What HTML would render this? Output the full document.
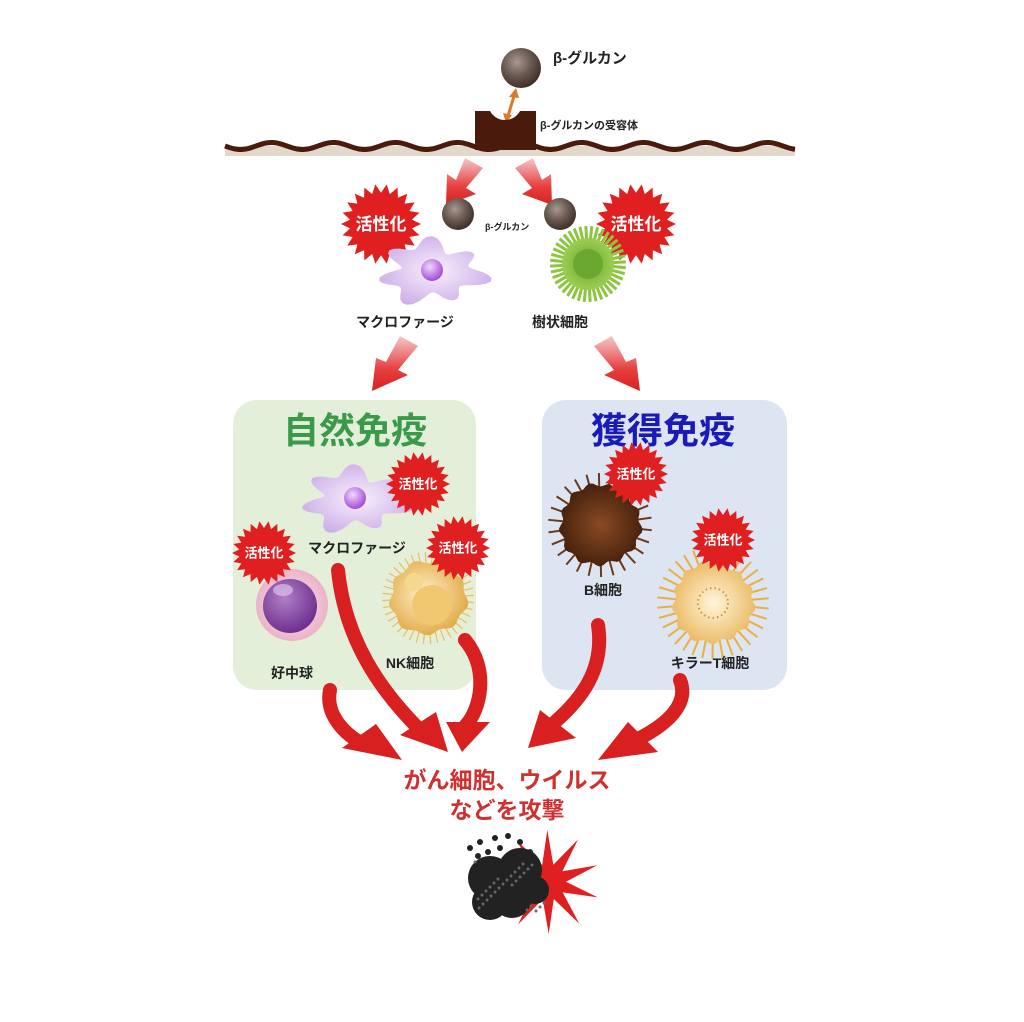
<!DOCTYPE html>
<html><head><meta charset="utf-8">
<style>
html,body{margin:0;padding:0;background:#fff;}
svg{display:block;}
text{font-family:"Liberation Sans","Noto Sans CJK JP",sans-serif;font-weight:bold;}
</style></head>
<body>
<svg id="s" width="1024" height="1022" viewBox="0 0 1024 1022" xmlns="http://www.w3.org/2000/svg">
<defs>
<radialGradient id="bead" cx="0.4" cy="0.35" r="0.7"><stop offset="0" stop-color="#a89890"/><stop offset="0.5" stop-color="#6b5a52"/><stop offset="1" stop-color="#3a2a24"/></radialGradient>
<linearGradient id="arrG" x1="0" y1="0" x2="0" y2="1"><stop offset="0" stop-color="#f6c8c8"/><stop offset="0.6" stop-color="#e64040"/><stop offset="1" stop-color="#d82020"/></linearGradient>
<radialGradient id="mac" cx="0.5" cy="0.5" r="0.6"><stop offset="0" stop-color="#f8f0fc"/><stop offset="1" stop-color="#c9a8e6"/></radialGradient>
<radialGradient id="nuc" cx="0.4" cy="0.35" r="0.7"><stop offset="0" stop-color="#f0d8ff"/><stop offset="1" stop-color="#a040d0"/></radialGradient>
<radialGradient id="grn" cx="0.5" cy="0.5" r="0.6"><stop offset="0" stop-color="#6aa830"/><stop offset="1" stop-color="#a6d45a"/></radialGradient>
<radialGradient id="neu" cx="0.5" cy="0.5" r="0.6"><stop offset="0" stop-color="#fbe8ef"/><stop offset="1" stop-color="#e8a8c0"/></radialGradient>
<radialGradient id="neun" cx="0.4" cy="0.35" r="0.7"><stop offset="0" stop-color="#b080c8"/><stop offset="1" stop-color="#6a2a8a"/></radialGradient>
<radialGradient id="nk" cx="0.45" cy="0.45" r="0.6"><stop offset="0" stop-color="#fff0c8"/><stop offset="1" stop-color="#e0a640"/></radialGradient>
<radialGradient id="bc" cx="0.5" cy="0.5" r="0.6"><stop offset="0" stop-color="#8a4a24"/><stop offset="1" stop-color="#3a1a08"/></radialGradient>
<radialGradient id="tc" cx="0.5" cy="0.5" r="0.6"><stop offset="0" stop-color="#fff6dc"/><stop offset="1" stop-color="#e8b050"/></radialGradient>
</defs>

<!-- top -->
<circle cx="521" cy="68" r="20" fill="url(#bead)"/>
<text x="553" y="63" font-size="15" fill="#222">β-グルカン</text>
<line x1="514" y1="96" x2="508" y2="116" stroke="#e0782a" stroke-width="3"/>
<polygon points="516,88 509,97 519,98" fill="#e0782a"/>
<polygon points="506,123 503,113 512,115" fill="#e0782a"/>

<rect x="225" y="146" width="570" height="10" fill="#e2d8cc"/>
<path id="wave" fill="none" stroke="#4a1a0c" stroke-width="5"/>
<path d="M475,111 L490,111 A17,17 0 0 0 520,111 L536,111 L536,150 L475,150 Z" fill="#4a1a0c"/>
<text x="540" y="129" font-size="11" fill="#222">β-グルカンの受容体</text>

<!-- arrows under membrane -->
<polygon points="465,158 483,168 466,188 476,194 446,205 447,174 456,180" fill="url(#arrG)"/>
<polygon points="533,158 515,168 532,188 522,194 552,205 551,174 542,180" fill="url(#arrG)"/>

<g id="stars"></g>

<circle cx="458" cy="214" r="16" fill="url(#bead)"/>
<circle cx="560" cy="214" r="16" fill="url(#bead)"/>
<text x="485" y="230" font-size="9" fill="#222">β-グルカン</text>

<text x="405" y="327" font-size="14" fill="#222" text-anchor="middle">マクロファージ</text>
<text x="560" y="327" font-size="14" fill="#222" text-anchor="middle">樹状細胞</text>

<polygon points="400,336 418,346 398,370 408,375 372,391 376,358 386,362" fill="url(#arrG)"/>
<polygon points="612,336 594,346 614,370 604,375 640,391 636,358 626,362" fill="url(#arrG)"/>

<!-- boxes -->
<rect x="233" y="400" width="243" height="290" rx="24" fill="#e3efd8"/>
<rect x="542" y="400" width="245" height="290" rx="24" fill="#dde5f2"/>
<text x="355" y="443" font-size="36" fill="#3a9a4a" text-anchor="middle">自然免疫</text>
<text x="663" y="443" font-size="36" fill="#1a1ab8" text-anchor="middle">獲得免疫</text>

<g id="cells"></g>
<g id="stars2"></g>

<text x="357" y="553" font-size="14" fill="#222" text-anchor="middle">マクロファージ</text>
<text x="292" y="678" font-size="14" fill="#222" text-anchor="middle">好中球</text>
<text x="410" y="668" font-size="14" fill="#222" text-anchor="middle">NK細胞</text>
<text x="603" y="595" font-size="14" fill="#222" text-anchor="middle">B細胞</text>
<text x="710" y="668" font-size="14" fill="#222" text-anchor="middle">キラーT細胞</text>

<!-- big arrows -->
<g fill="none" stroke="#d82020" stroke-linecap="round">
<path d="M338,570 C345,640 380,690 420,730" stroke-width="14"/>
<path d="M330,690 C325,715 345,735 365,745" stroke-width="14"/>
<path d="M465,640 C490,670 480,710 466,725" stroke-width="14"/>
<path d="M598,625 C605,670 580,700 555,722" stroke-width="14"/>
<path d="M680,680 C690,705 665,725 640,738" stroke-width="14"/>
</g>
<g fill="#d82020">
<polygon points="400,735 448,752 436,712"/>
<polygon points="342,748 402,760 376,724"/>
<polygon points="446,722 462,752 490,722"/>
<polygon points="528,748 576,738 540,710"/>
<polygon points="598,760 658,752 628,722"/>
</g>

<text x="507" y="788" font-size="23" fill="#d03030" text-anchor="middle">がん細胞、ウイルス</text>
<text x="507" y="818" font-size="23" fill="#d03030" text-anchor="middle">などを攻撃</text>

<g id="boom"></g>
</svg>
<script>
var NS="http://www.w3.org/2000/svg";
function el(p,t,a){var e=document.createElementNS(NS,t);for(var k in a)e.setAttribute(k,a[k]);p.appendChild(e);return e;}
var d="M225,146";for(var x=225;x<=795;x+=2){var y=146+3.5*Math.sin((x-225)/62*2*Math.PI);d+=" L"+x+","+y.toFixed(1);}
document.getElementById("wave").setAttribute("d",d);
function star(g,cx,cy,r1,r2,n,fill,rot){var p=[];for(var i=0;i<2*n;i++){var a=i*Math.PI/n+(rot||0);var r=i%2?r2:r1;p.push((cx+r*Math.cos(a)).toFixed(1)+","+(cy+r*Math.sin(a)).toFixed(1));}return el(g,"polygon",{points:p.join(" "),fill:fill});}
function act(g,cx,cy,r,fs){star(g,cx,cy,r,r*0.78,22,"#e02020");var t=el(g,"text",{x:cx,y:cy+fs*0.35,"font-size":fs,fill:"#fff","text-anchor":"middle"});t.textContent="活性化";}
function blob(g,cx,cy,rx,ry,fill,n,amp){var p="";for(var i=0;i<=72;i++){var a=i/72*2*Math.PI;var r=1+amp*Math.sin(n*a)+amp*0.5*Math.sin(3*a+1);p+=(i?"L":"M")+(cx+rx*r*Math.cos(a)).toFixed(1)+","+(cy+ry*r*Math.sin(a)).toFixed(1);}return el(g,"path",{d:p+"Z",fill:fill});}
function spikes(g,cx,cy,r1,r2,n,col,w){for(var i=0;i<n;i++){var a=i/n*2*Math.PI+0.1;el(g,"line",{x1:cx+r1*Math.cos(a),y1:cy+r1*Math.sin(a),x2:cx+r2*Math.cos(a),y2:cy+r2*Math.sin(a),stroke:col,"stroke-width":w});}}
function macro(g,cx,cy,s){blob(g,cx,cy,46*s,28*s,"url(#mac)",7,0.22);el(g,"circle",{cx:cx,cy:cy-2*s,r:11*s,fill:"url(#nuc)"});}
var S=document.getElementById("stars"),C=document.getElementById("cells"),S2=document.getElementById("stars2"),B=document.getElementById("boom");
act(S,381,224,40,17);act(S,636,224,40,17);
macro(S,432,272,1);
spikes(S,588,264,20,38,40,"#8cc63f",3);el(S,"circle",{cx:588,cy:264,r:26,fill:"url(#grn)"});el(S,"circle",{cx:588,cy:264,r:15,fill:"#6aa830"});
macro(C,355,500,1);
el(C,"circle",{cx:292,cy:605,r:36,fill:"url(#neu)"});el(C,"circle",{cx:290,cy:606,r:27,fill:"url(#neun)"});el(C,"ellipse",{cx:283,cy:590,rx:10,ry:6,fill:"#e8d0f0",opacity:0.6});
spikes(C,428,598,34,46,40,"#e8c060",1.2);blob(C,428,598,38,36,"url(#nk)",9,0.05);el(C,"circle",{cx:432,cy:605,r:20,fill:"#f0c870"});el(C,"circle",{cx:414,cy:582,r:9,fill:"#f5d890"});
spikes(C,600,525,30,52,26,"#6a3a1a",2);blob(C,600,525,40,40,"url(#bc)",13,0.05);
spikes(C,713,603,30,56,34,"#e8b040",2);blob(C,713,603,40,40,"url(#tc)",13,0.05);el(C,"circle",{cx:713,cy:603,r:15,fill:"none",stroke:"#d89030","stroke-width":2,"stroke-dasharray":"1.5 3"});
act(S2,418,484,32,13);act(S2,264,553,32,13);act(S2,458,548,32,13);act(S2,636,474,32,13);act(S2,723,540,32,13);
star(B,548,882,52,18,10,"#e02020",0.3);
[[490,878,22],[520,870,22],[512,898,20],[490,902,18],[535,890,14]].forEach(function(c){el(B,"circle",{cx:c[0],cy:c[1],r:c[2],fill:"#222"});});
for(var i=0;i<30;i++){el(B,"circle",{cx:475+((i*37)%70),cy:862+((i*23)%50),r:1.5,fill:"#666"});}
[[470,848],[480,842],[495,838],[508,836],[520,842],[530,852],[478,856],[500,848],[488,852]].forEach(function(c){el(B,"circle",{cx:c[0],cy:c[1],r:3,fill:"#222"});});
</script>
</body></html>
